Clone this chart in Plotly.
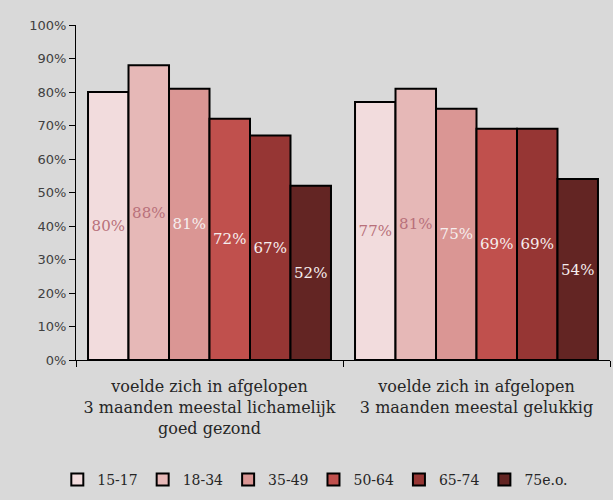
import plotly.graph_objects as go

categories = ["voelde zich in afgelopen<br>3 maanden meestal lichamelijk<br>goed gezond",
              "voelde zich in afgelopen<br>3 maanden meestal gelukkig"]
groups = ["15-17", "18-34", "35-49", "50-64", "65-74", "75e.o."]
values = {
    "15-17": [80, 77],
    "18-34": [88, 81],
    "35-49": [81, 75],
    "50-64": [72, 69],
    "65-74": [67, 69],
    "75e.o.": [52, 54],
}
colors = ["#f2dcdd", "#e6b8b7", "#da9694", "#c0504d", "#963634", "#632523"]
label_colors = ["#b8707a", "#b8707a", "#f6eeee", "#f6eeee", "#f6eeee", "#f6eeee"]

fig = go.Figure()
for g, c, lc in zip(groups, colors, label_colors):
    v = values[g]
    fig.add_trace(go.Bar(
        x=categories, y=v, name=g,
        marker=dict(color=c, line=dict(color="black", width=2)),
        text=[f"{x}%" for x in v], textposition="inside", insidetextanchor="middle",
        textangle=0, constraintext="none",
        textfont=dict(family="DejaVu Serif", size=15, color=lc),
    ))

fig.update_layout(
    width=613, height=500,
    barmode="group", bargap=0.09, bargroupgap=0,
    paper_bgcolor="#d9d9d9", plot_bgcolor="#d9d9d9",
    margin=dict(l=76, r=3, t=25, b=140),
    uniformtext=dict(minsize=15, mode="show"),
    showlegend=True,
    legend=dict(orientation="h", x=-0.035, xanchor="left", y=-0.31, yanchor="top",
                font=dict(family="DejaVu Serif", size=14, color="#262626"),
                itemwidth=30, tracegroupgap=0, traceorder="normal"),
    font=dict(family="DejaVu Serif"),
)
fig.update_xaxes(showline=True, linecolor="black", linewidth=1.2, ticks="outside",
                 tickson="boundaries", ticklen=6, tickcolor="black",
                 ticklabelstandoff=12,
                 tickfont=dict(family="DejaVu Serif", size=16, color="#262626"))
fig.update_yaxes(range=[0, 100], dtick=10, ticksuffix="%", showgrid=False,
                 showline=True, linecolor="black", linewidth=1.2, ticks="outside",
                 ticklen=6, tickcolor="black", zeroline=False,
                 tickfont=dict(family="DejaVu Sans", size=13, color="#404040"))

fig.write_html("out.html")
